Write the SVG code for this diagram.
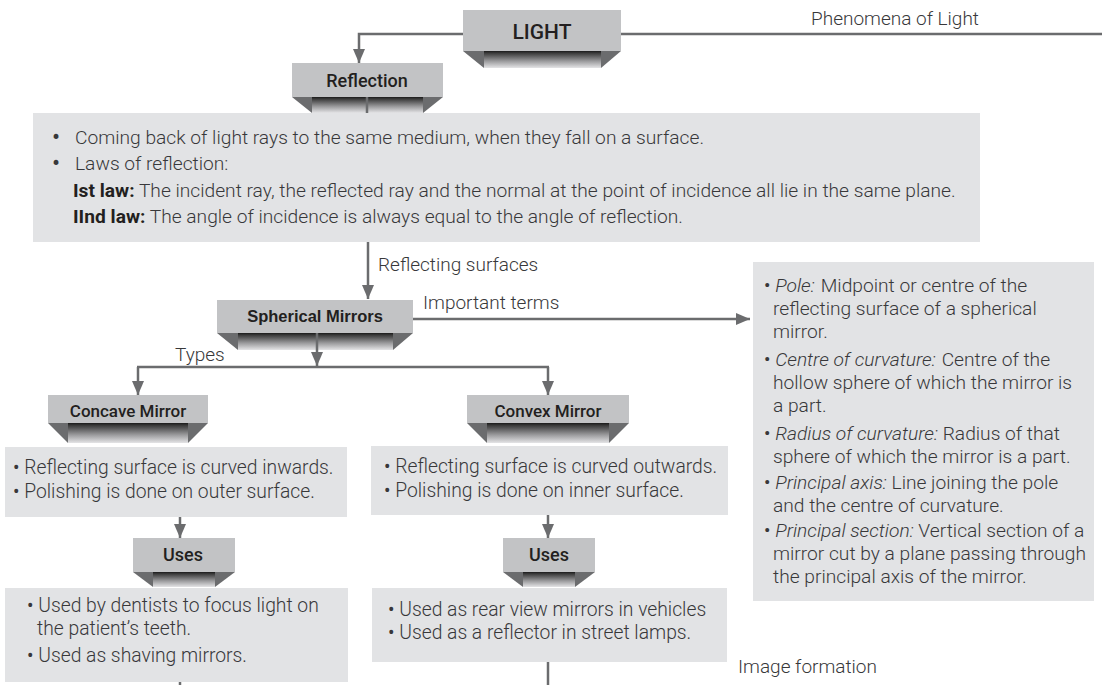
<svg xmlns="http://www.w3.org/2000/svg" width="1102" height="685" viewBox="0 0 1102 685">
  <style>
    .face { fill: #c2c3c5; }
    .side { fill: #6b6c6e; }
    .band { fill: url(#bandGrad); }
    .panel { fill: #e2e3e5; }
    .head { font-family: Roboto, "Liberation Sans", sans-serif; font-weight: 500; fill: #231f20; text-anchor: middle; }
    .head-arial { font-family: "Liberation Sans", Arial, sans-serif; font-weight: bold; fill: #231f20; text-anchor: middle; }
    .body { font-family: Roboto, "Liberation Sans", sans-serif; font-weight: 300; font-size: 19.3px; fill: #38383a; }
    .lead { font-size: 19.2px; }
    .terms { font-size: 19.2px; }
    .bold { font-weight: 700; fill: #231f20; }
    .ital { font-style: italic; }
    .dot { font-weight: 400; }
    .bigdot { font-family: Roboto, "Liberation Sans", sans-serif; font-weight: 400; font-size: 24px; fill: #38383a; }
    .label { font-family: Roboto, "Liberation Sans", sans-serif; font-weight: 300; font-size: 19px; fill: #38383a; }
    .conn line, .conn polyline { stroke: #6b6c6e; stroke-width: 2.5; fill: none; }
    .arrow { marker-end: url(#arrowHead); }
  </style>
  <defs>
    <linearGradient id="bandGrad" x1="0" y1="0" x2="0" y2="1">
      <stop offset="0" stop-color="#1a1a1a"/>
      <stop offset="0.12" stop-color="#3a3a3a"/>
      <stop offset="0.6" stop-color="#9c9c9e"/>
      <stop offset="1" stop-color="#e4e4e6"/>
    </linearGradient>
    <marker id="arrowHead" viewBox="0 0 14 12" refX="14" refY="6" markerWidth="14" markerHeight="12" markerUnits="userSpaceOnUse" orient="auto">
      <path d="M0,0 L14,6 L0,12 z" fill="#6b6c6e"/>
    </marker>
  </defs>

  <!-- description panels -->
  <g id="reflection-text">
    <rect class="panel" x="33" y="113" width="947" height="129"/>
    <text class="bigdot" x="52" y="145">•</text>
    <text class="body lead" x="75" y="144">Coming back of light rays to the same medium, when they fall on a surface.</text>
    <text class="bigdot" x="52" y="171">•</text>
    <text class="body lead" x="75" y="170">Laws of reflection:</text>
    <text class="body lead" x="73" y="197"><tspan class="bold">Ist law:</tspan> The incident ray, the reflected ray and the normal at the point of incidence all lie in the same plane.</text>
    <text class="body lead" x="73" y="223"><tspan class="bold">IInd law:</tspan> The angle of incidence is always equal to the angle of reflection.</text>
  </g>

  <g id="concave-text">
    <rect class="panel" x="5" y="447" width="342" height="70"/>
    <text class="body" x="13" y="474"><tspan class="dot">•</tspan> Reflecting surface is curved inwards.</text>
    <text class="body" x="13" y="498"><tspan class="dot">•</tspan> Polishing is done on outer surface.</text>
  </g>

  <g id="convex-text">
    <rect class="panel" x="371" y="446" width="357" height="69"/>
    <text class="body" x="384" y="473"><tspan class="dot">•</tspan> Reflecting surface is curved outwards.</text>
    <text class="body" x="384" y="497"><tspan class="dot">•</tspan> Polishing is done on inner surface.</text>
  </g>

  <g id="concave-uses-text">
    <rect class="panel" x="5" y="588" width="343" height="94"/>
    <text class="body" x="27" y="612"><tspan class="dot">•</tspan> Used by dentists to focus light on</text>
    <text class="body" x="37" y="635">the patient’s teeth.</text>
    <text class="body" x="27" y="662"><tspan class="dot">•</tspan> Used as shaving mirrors.</text>
  </g>

  <g id="convex-uses-text">
    <rect class="panel" x="372" y="588" width="355" height="74"/>
    <text class="body" x="388" y="616"><tspan class="dot">•</tspan> Used as rear view mirrors in vehicles</text>
    <text class="body" x="388" y="639"><tspan class="dot">•</tspan> Used as a reflector in street lamps.</text>
  </g>

  <g id="terms-text">
    <rect class="panel" x="753" y="262" width="341" height="339"/>
    <text class="body terms" x="764" y="292"><tspan class="dot">•</tspan> <tspan class="ital">Pole:</tspan><tspan dx="6">Midpoint or centre of the</tspan></text>
    <text class="body terms" x="773" y="315">reflecting surface of a spherical</text>
    <text class="body terms" x="773" y="338">mirror.</text>
    <text class="body terms" x="764" y="366"><tspan class="dot">•</tspan> <tspan class="ital">Centre of curvature:</tspan><tspan dx="6">Centre of the</tspan></text>
    <text class="body terms" x="773" y="389">hollow sphere of which the mirror is</text>
    <text class="body terms" x="773" y="412">a part.</text>
    <text class="body terms" x="764" y="440"><tspan class="dot">•</tspan> <tspan class="ital">Radius of curvature:</tspan> Radius of that</text>
    <text class="body terms" x="773" y="463">sphere of which the mirror is a part.</text>
    <text class="body terms" x="764" y="489"><tspan class="dot">•</tspan> <tspan class="ital">Principal axis:</tspan> Line joining the pole</text>
    <text class="body terms" x="773" y="512">and the centre of curvature.</text>
    <text class="body terms" x="764" y="537"><tspan class="dot">•</tspan> <tspan class="ital">Principal section:</tspan> Vertical section of a</text>
    <text class="body terms" x="773" y="560">mirror cut by a plane passing through</text>
    <text class="body terms" x="773" y="583">the principal axis of the mirror.</text>
  </g>

  <!-- connectors -->
  <g id="connectors" class="conn">
    <polyline class="arrow" points="463,34 359,34 359,63"/>
    <line x1="621" y1="34" x2="1102" y2="34"/>
    <line class="arrow" x1="368" y1="242" x2="368" y2="299"/>
    <line class="arrow" x1="413" y1="319" x2="750" y2="319"/>
    <polyline class="arrow" points="138,367 138,395"/>
    <line x1="137" y1="367" x2="549" y2="367"/>
    <polyline class="arrow" points="548,367 548,395"/>
    <line class="arrow" x1="180" y1="517" x2="180" y2="538"/>
    <line class="arrow" x1="548" y1="515" x2="548" y2="538"/>
    <line x1="180" y1="682" x2="180" y2="685"/>
    <line x1="548" y1="662" x2="548" y2="685"/>
  </g>

  <!-- connector labels -->
  <g id="connector-labels">
    <text class="label" x="811" y="25">Phenomena of Light</text>
    <text class="label" x="378" y="271">Reflecting surfaces</text>
    <text class="label" x="423" y="309">Important terms</text>
    <text class="label" x="175" y="361">Types</text>
    <text class="label" x="738" y="673">Image formation</text>
  </g>

  <!-- heading nodes: flat face with bevelled lower lip -->
  <g id="node-light">
    <rect class="face" x="463" y="10" width="158" height="41"/>
    <polygon class="side" points="463,51 484,51 484,68"/>
    <rect class="band" x="484" y="51" width="117" height="17"/>
    <polygon class="side" points="601,51 621,51 601,68"/>
    <text class="head" x="542" y="39" font-size="21">LIGHT</text>
  </g>

  <g id="node-reflection">
    <rect class="face" x="292" y="63" width="151" height="34"/>
    <polygon class="side" points="292,97 312,97 312,113"/>
    <rect class="band" x="312" y="97" width="111" height="16"/>
    <polygon class="side" points="423,97 443,97 423,113"/>
    <line x1="367" y1="97" x2="367" y2="113" stroke="#6b6c6e" stroke-width="2.5"/>
    <text class="head" x="367" y="87" font-size="18">Reflection</text>
  </g>

  <g id="node-spherical">
    <rect class="face" x="217" y="300" width="196" height="33"/>
    <polygon class="side" points="217,333 238,333 238,350"/>
    <rect class="band" x="238" y="333" width="155" height="17"/>
    <polygon class="side" points="393,333 413,333 393,350"/>
    <line class="arrow" x1="317" y1="333" x2="317" y2="366" stroke="#6b6c6e" stroke-width="2.5"/>
    <text class="head-arial" x="315" y="322" font-size="16.5">Spherical Mirrors</text>
  </g>

  <g id="node-concave">
    <rect class="face" x="48" y="395" width="160" height="28"/>
    <polygon class="side" points="48,423 68,423 68,443"/>
    <rect class="band" x="68" y="423" width="120" height="20"/>
    <polygon class="side" points="188,423 208,423 188,443"/>
    <text class="head" x="128" y="417" font-size="17">Concave Mirror</text>
  </g>

  <g id="node-convex">
    <rect class="face" x="467" y="395" width="162" height="28"/>
    <polygon class="side" points="467,423 487,423 487,443"/>
    <rect class="band" x="487" y="423" width="122" height="20"/>
    <polygon class="side" points="609,423 629,423 609,443"/>
    <text class="head" x="548" y="417" font-size="17">Convex Mirror</text>
  </g>

  <g id="node-uses-concave">
    <rect class="face" x="133" y="538" width="102" height="34"/>
    <polygon class="side" points="133,572 153,572 153,587"/>
    <rect class="band" x="153" y="572" width="62" height="15"/>
    <polygon class="side" points="215,572 235,572 215,587"/>
    <text class="head" x="183" y="561" font-size="18">Uses</text>
  </g>

  <g id="node-uses-convex">
    <rect class="face" x="503" y="538" width="92" height="34"/>
    <polygon class="side" points="503,572 523,572 523,587"/>
    <rect class="band" x="523" y="572" width="52" height="15"/>
    <polygon class="side" points="575,572 595,572 575,587"/>
    <text class="head" x="549" y="561" font-size="18">Uses</text>
  </g>
</svg>
